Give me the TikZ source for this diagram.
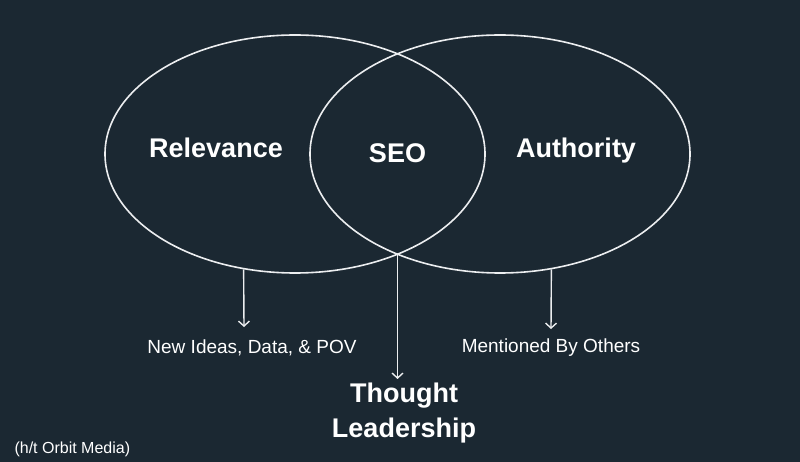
\documentclass[tikz,border=0pt]{standalone}
\usepackage{fontspec}
\setmainfont{Liberation Sans}
\usetikzlibrary{arrows.meta,shapes.geometric,positioning}
\definecolor{slatebg}{RGB}{27,40,50}
\definecolor{chalk}{RGB}{236,238,240}

\begin{document}
\begin{tikzpicture}[x=1pt,y=-1pt,
        ring/.style={draw=chalk,line width=1.6pt,ellipse,minimum width=380pt,
                     minimum height=238pt,inner sep=0pt},
        big/.style={font=\bfseries\fontsize{27}{35}\selectfont,text=white,align=center},
        small/.style={font=\fontsize{19}{23}\selectfont,text=white},
        arr/.style={-{Straight Barb[length=5pt,width=11pt]},chalk,line width=1.4pt},
      ]
        \fill[slatebg](0,0)rectangle(800,462);
        \useasboundingbox(0,0)rectangle(800,462);
        % the two circles
        \node[ring](rel)at(295,154){};
        \node[ring](auth)at(500,154){};
        \node[big,anchor=base](relv)at(216,158){Relevance};
        \node[big,anchor=base](seo)at(397.5,163){SEO};
        \node[big,anchor=base](autv)at(576,158){Authority};
        % where the arrows go
        \coordinate(meet)at(397.5,254);
        \coordinate(e1)at(244,327);
        \coordinate(e2)at(397.5,379);
        \coordinate(e3)at(551,329);
        \node[small](ideas)at(252,348){New Ideas, Data, \& POV};
        \node[small](others)at(551,348){Mentioned By Others};
        \node[big](lead)at(404,413.5){Thought\\Leadership};
        \node[small,font=\fontsize{16}{19}\selectfont,anchor=west](orbit)at(11,449){(h/t Orbit Media)};
        \draw[arr](rel.246)--(e1);
        \draw[arr](meet)--(e2);
        \draw[arr](auth.294)--(e3);
      \end{tikzpicture}
\end{document}
